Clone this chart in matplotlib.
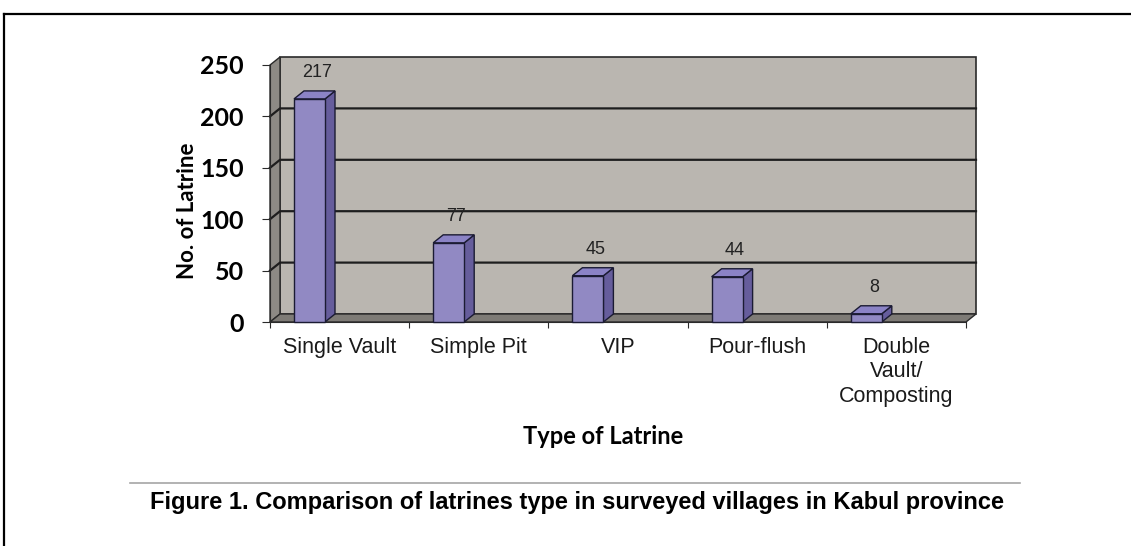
import numpy as np
import matplotlib
matplotlib.use("Agg")
import matplotlib.pyplot as plt
from matplotlib.patches import Rectangle, Polygon
from matplotlib.lines import Line2D

# data
types = ["Single Vault", "Simple Pit", "VIP", "Pour-flush", "Double\nVault/\nComposting"]
counts = [217, 77, 45, 44, 8]
yticks = [0, 50, 100, 150, 200, 250]

W, H = 1131, 546
fig = plt.figure(figsize=(W / 100, H / 100), dpi=100)
fig.patch.set_facecolor("white")

# front plane of the pseudo-3D chart (pixels -> figure fraction)
ax = fig.add_axes([270 / W, (H - 322) / H, 696 / W, 257 / H])
ax.set_xlim(0, len(types))
ax.set_ylim(0, 250)
ax.patch.set_visible(False)

# depth of the 3D effect in data units
px_x = 696 / len(types)
px_y = 257 / 250
ddx = 10 / px_x
ddy = 8 / px_y

wall = "#bab6b0"
side_wall = "#8d8a85"
floor = "#7e7b76"
edge = "#2a2a2a"
n = len(types)
top = yticks[-1]

# back wall, left wall, floor
ax.add_patch(Rectangle((ddx, ddy), n, top, facecolor=wall, edgecolor=edge,
                       lw=1.2, zorder=0, clip_on=False))
ax.add_patch(Polygon([(0, 0), (ddx, ddy), (ddx, top + ddy), (0, top)],
                     facecolor=side_wall, edgecolor=edge, lw=1, zorder=0.5, clip_on=False))
ax.add_patch(Polygon([(0, 0), (n, 0), (n + ddx, ddy), (ddx, ddy)],
                     facecolor=floor, edgecolor=edge, lw=1, zorder=0.6, clip_on=False))

# gridlines on the walls
for v in yticks[1:-1]:
    ax.plot([0, ddx, n + ddx], [v, v + ddy, v + ddy], color="#1e1e1e", lw=1.6,
            zorder=0.8, clip_on=False)

# bars
front_c = "#9189c3"
side_c = "#665d9c"
top_c = "#8b83c6"
bar_off = 24 / px_x
bar_w = 31 / px_x
for i, v in enumerate(counts):
    x0 = i + bar_off
    ax.add_patch(Polygon([(x0 + bar_w, 0), (x0 + bar_w + ddx, ddy),
                          (x0 + bar_w + ddx, v + ddy), (x0 + bar_w, v)],
                         facecolor=side_c, edgecolor="#1b1b33", lw=1, zorder=3, clip_on=False))
    ax.add_patch(Polygon([(x0, v), (x0 + ddx, v + ddy), (x0 + bar_w + ddx, v + ddy),
                          (x0 + bar_w, v)],
                         facecolor=top_c, edgecolor="#1b1b33", lw=1, zorder=3, clip_on=False))
    ax.add_patch(Rectangle((x0, 0), bar_w, v, facecolor=front_c, edgecolor="#1b1b33",
                           lw=1, zorder=3.1, clip_on=False))
    ax.annotate(str(v), (x0 + (bar_w + ddx) / 2 + 0.02, v + ddy), xytext=(0, 13),
                textcoords="offset points", ha="center", va="center",
                fontsize=13, family="Liberation Sans", color="#222222")

# axes
for s in ["top", "right"]:
    ax.spines[s].set_visible(False)
ax.spines["left"].set_color(edge)
ax.spines["bottom"].set_color(edge)
ax.set_yticks(yticks)
ax.set_yticklabels([str(t) for t in yticks], fontsize=18, fontweight="bold", family="Lato")
ax.tick_params(axis="y", length=6, pad=13, colors=edge, labelcolor="black")
ax.set_xticks(np.arange(n + 1))
ax.set_xticklabels([])
ax.tick_params(axis="x", which="major", length=4, colors=edge)
ax.set_xticks(np.arange(n) + 0.5, minor=True)
ax.set_xticklabels(types, minor=True, fontsize=15.5, family="Liberation Sans",
                   color="#1a1a1a", linespacing=1.2)
ax.tick_params(axis="x", which="minor", length=0, pad=11)

fig.text(188 / W, 1 - 211 / H, "No. of Latrine", rotation=90, ha="center", va="center",
         fontsize=16, fontweight="bold", family="Lato")
fig.text(603 / W, 1 - 437 / H, "Type of Latrine", ha="center", va="center",
         fontsize=17, fontweight="bold", family="Lato")

# caption, separator and frame
fig.add_artist(Line2D([130 / W, 1020 / W], [1 - 483 / H, 1 - 483 / H], color="#a6a6a6", lw=1.2))
fig.text(577 / W, 1 - 503 / H,
         "Figure 1. Comparison of latrines type in surveyed villages in Kabul province",
         ha="center", va="center", fontsize=17, fontweight="bold", family="Liberation Sans")
fig.add_artist(Line2D([4 / W, 1], [1 - 14 / H, 1 - 14 / H], color="black", lw=1.6))
fig.add_artist(Line2D([4 / W, 4 / W], [0, 1 - 14 / H], color="black", lw=1.6))

fig.savefig("out.png", dpi=100)
